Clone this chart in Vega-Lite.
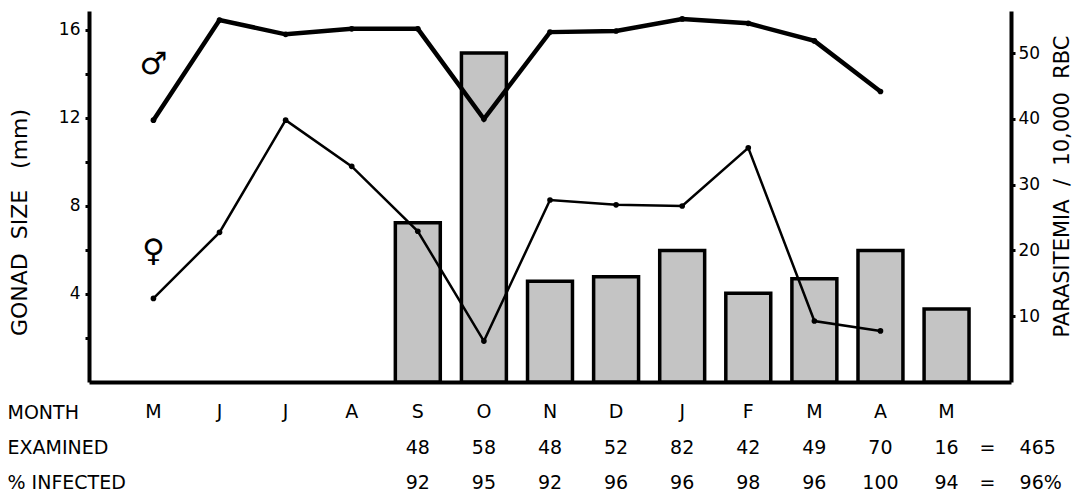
{
  "$schema": "https://vega.github.io/schema/vega-lite/v6.json",
  "padding": {"left": 7, "top": 9, "right": 4, "bottom": 2},
  "config": {
    "view": {"stroke": null},
    "font": "DejaVu Sans",
    "axis": {"labelFont": "DejaVu Sans", "titleFont": "DejaVu Sans", "labelColor": "black", "titleColor": "black", "domainColor": "black", "tickColor": "black", "titleFontWeight": "normal", "grid": false}
  },
  "datasets": {
    "months": [
      {"key": "May", "m": "M", "male": 11.9, "female": 3.8, "para": null, "examined": null, "infected": null},
      {"key": "Jun", "m": "J", "male": 16.45, "female": 6.8, "para": null, "examined": null, "infected": null},
      {"key": "Jul", "m": "J", "male": 15.8, "female": 11.9, "para": null, "examined": null, "infected": null},
      {"key": "Aug", "m": "A", "male": 16.05, "female": 9.8, "para": null, "examined": null, "infected": null},
      {"key": "Sep", "m": "S", "male": 16.05, "female": 6.85, "para": 24.2, "examined": 48, "infected": 92},
      {"key": "Oct", "m": "O", "male": 11.95, "female": 1.86, "para": 50.0, "examined": 58, "infected": 95},
      {"key": "Nov", "m": "N", "male": 15.9, "female": 8.27, "para": 15.3, "examined": 48, "infected": 92},
      {"key": "Dec", "m": "D", "male": 15.95, "female": 8.05, "para": 16.0, "examined": 52, "infected": 96},
      {"key": "Jan", "m": "J", "male": 16.5, "female": 8.0, "para": 20.0, "examined": 82, "infected": 96},
      {"key": "Feb", "m": "F", "male": 16.3, "female": 10.64, "para": 13.5, "examined": 42, "infected": 98},
      {"key": "Mar", "m": "M", "male": 15.5, "female": 2.77, "para": 15.7, "examined": 49, "infected": 96},
      {"key": "Apr", "m": "A", "male": 13.2, "female": 2.32, "para": 20.0, "examined": 70, "infected": 100},
      {"key": "May (2)", "m": "M", "male": null, "female": null, "para": 11.1, "examined": 16, "infected": 94}
    ],
    "symbols": [
      {"key": "May", "mm": 14.4, "sym": "♂"},
      {"key": "May", "mm": 5.9, "sym": "♀"}
    ],
    "totals": [
      {"row": "examined", "total": "465"},
      {"row": "infected", "total": "96%"}
    ]
  },
  "spacing": 19,
  "resolve": {"scale": {"x": "independent", "y": "independent"}},
  "vconcat": [
    {
      "width": 922,
      "height": 371,
      "data": {"name": "months"},
      "encoding": {
        "x": {
          "field": "key", "type": "ordinal",
          "scale": {"type": "band", "domain": ["May", "Jun", "Jul", "Aug", "Sep", "Oct", "Nov", "Dec", "Jan", "Feb", "Mar", "Apr", "May (2)"], "paddingInner": 0.32, "paddingOuter": 0.635},
          "axis": {"domain": true, "domainWidth": 4, "labels": false, "ticks": false, "title": null}
        }
      },
      "layer": [
        {
          "mark": {"type": "bar", "fill": "#c4c4c4", "stroke": "black", "strokeWidth": 3.5},
          "encoding": {
            "y": {
              "field": "para", "type": "quantitative",
              "scale": {"domain": [0, 56.4], "nice": false, "zero": true},
              "axis": {"orient": "right", "values": [10, 20, 30, 40, 50], "title": "PARASITEMIA\u00a0\u00a0/\u00a0\u00a010,000\u00a0\u00a0RBC", "domainWidth": 4, "tickSize": 4, "tickWidth": 3, "labelFontSize": 17, "labelPadding": 3, "titleFontSize": 21, "titleAngle": 270, "titleBaseline": "middle", "titleAlign": "center", "titleX": 51, "titleY": 175}
            }
          }
        },
        {
          "encoding": {
            "y": {
              "field": "mm", "type": "quantitative",
              "scale": {"domain": [0, 16.86], "nice": false, "zero": true},
              "axis": {"orient": "left", "values": [2, 4, 6, 8, 10, 12, 14, 16], "labelExpr": "datum.value % 4 == 0 ? datum.label : ''", "title": "GONAD\u00a0\u00a0SIZE\u00a0\u00a0\u00a0(mm)", "domainWidth": 4, "tickSize": 4, "tickWidth": 3, "labelFontSize": 17, "labelPadding": 5, "titleFontSize": 22, "titleAngle": 270, "titleBaseline": "middle", "titleAlign": "center", "titleX": -70, "titleY": 211}
            }
          },
          "layer": [
            {
              "transform": [{"fold": ["male", "female"], "as": ["sex", "mm"]}, {"filter": "datum.sex == 'male'"}],
              "mark": {"type": "line", "color": "black", "strokeWidth": 4.5}
            },
            {
              "transform": [{"fold": ["male", "female"], "as": ["sex", "mm"]}, {"filter": "datum.sex == 'female'"}],
              "mark": {"type": "line", "color": "black", "strokeWidth": 2.5}
            },
            {
              "transform": [{"fold": ["male", "female"], "as": ["sex", "mm"]}, {"filter": "datum.mm != null"}],
              "mark": {"type": "circle", "color": "black", "opacity": 1, "size": 32}
            },
            {
              "data": {"name": "symbols"},
              "mark": {"type": "text", "fontSize": 31, "color": "black", "baseline": "middle"},
              "encoding": {"text": {"field": "sym", "type": "nominal"}}
            }
          ]
        }
      ],
      "resolve": {"scale": {"y": "independent"}}
    },
    {
      "width": 922,
      "height": 85,
      "encoding": {
        "x": {
          "field": "key", "type": "ordinal",
          "scale": {"type": "band", "domain": ["May", "Jun", "Jul", "Aug", "Sep", "Oct", "Nov", "Dec", "Jan", "Feb", "Mar", "Apr", "May (2)"], "paddingInner": 0.32, "paddingOuter": 0.635},
          "axis": null
        },
        "y": {
          "field": "row", "type": "nominal",
          "scale": {"type": "point", "domain": ["m", "examined", "infected"], "padding": 0.2},
          "axis": {"title": null, "domain": false, "ticks": false, "labelAlign": "left", "labelPadding": 82, "labelFontSize": 19, "labelExpr": "datum.value == 'm' ? 'MONTH' : datum.value == 'examined' ? 'EXAMINED' : '% INFECTED'"}
        }
      },
      "layer": [
        {
          "data": {"name": "months"},
          "transform": [{"fold": ["m", "examined", "infected"], "as": ["row", "value"]}, {"filter": "datum.value != null"}],
          "mark": {"type": "text", "fontSize": 19, "color": "black"},
          "encoding": {"text": {"field": "value", "type": "nominal"}}
        },
        {
          "data": {"name": "totals"},
          "mark": {"type": "text", "fontSize": 19, "color": "black", "dx": 41, "text": "="},
          "encoding": {"x": {"datum": "May (2)", "type": "ordinal"}}
        },
        {
          "data": {"name": "totals"},
          "mark": {"type": "text", "fontSize": 19, "color": "black", "dx": 73, "align": "left"},
          "encoding": {"x": {"datum": "May (2)", "type": "ordinal"}, "text": {"field": "total", "type": "nominal"}}
        }
      ]
    }
  ]
}
